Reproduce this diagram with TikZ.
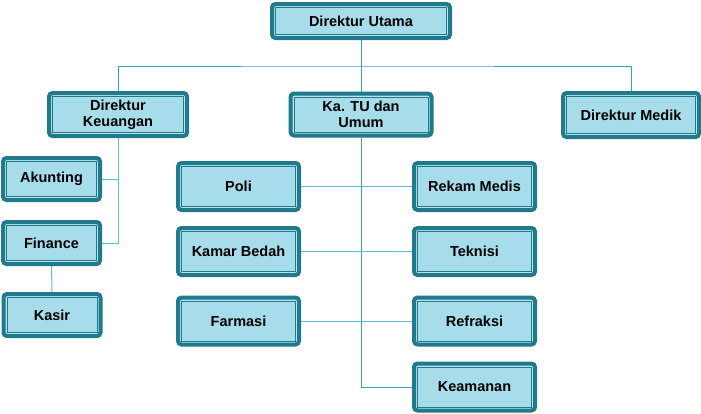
\documentclass[tikz,border=0pt]{standalone}
\usepackage{fontspec}
\setmainfont{Liberation Sans}
\usetikzlibrary{backgrounds}
\definecolor{boxdark}{HTML}{21798C}
\definecolor{boxfill}{HTML}{A7DDEA}
\definecolor{boxlight}{HTML}{B9E4EE}
\definecolor{linetop}{HTML}{35A0BE}
\definecolor{linelow}{HTML}{62BBD3}
\tikzset{
  orgbox/.style={draw=boxdark, line width=4pt, fill=boxfill, rounded corners=3.5pt,
    font=\fontsize{14.5}{16}\selectfont\bfseries, align=center, inner sep=0pt, text=black,
    path picture={
      \draw[boxlight, line width=1pt, sharp corners]
        ([shift={(2.5pt,2.5pt)}]path picture bounding box.south west) rectangle
        ([shift={(-2.5pt,-2.5pt)}]path picture bounding box.north east);
      \draw[boxdark, line width=1pt, sharp corners]
        ([shift={(3.5pt,3.5pt)}]path picture bounding box.south west) rectangle
        ([shift={(-3.5pt,-3.5pt)}]path picture bounding box.north east);
    }},
  bigbox/.style={orgbox, minimum width=121pt, minimum height=47pt},
  smallbox/.style={orgbox, minimum width=97pt, minimum height=42pt},
  conn/.style={line width=1pt, linelow},
  conntop/.style={line width=1pt, linetop}
}
\begin{document}
\begin{tikzpicture}[x=1pt,y=-1pt]
\useasboundingbox (0,0) rectangle (701,413);
\node[orgbox, minimum width=178pt, minimum height=34pt] (utama) at (361,21) {Direktur Utama};
\node[orgbox, minimum width=138pt, minimum height=43pt] (keu) at (118,114.5) {Direktur\\Keuangan};
\node[orgbox, minimum width=141pt, minimum height=42pt] (tu) at (361,114.5) {Ka. TU dan\\Umum};
\node[orgbox, minimum width=136pt, minimum height=44pt] (medik) at (631,115) {Direktur Medik};
\node[smallbox] (akunting) at (51.5,179) {Akunting};
\node[smallbox] (finance) at (51.5,243) {Finance};
\node[smallbox] (kasir) at (52,315) {Kasir};
\node[bigbox] (poli) at (238.5,186.5) {Poli};
\node[bigbox] (kamar) at (238.5,251.5) {Kamar Bedah};
\node[bigbox] (farmasi) at (238.5,321) {Farmasi};
\node[bigbox] (rekam) at (474.5,186.5) {Rekam Medis};
\node[bigbox] (teknisi) at (474.5,251.5) {Teknisi};
\node[bigbox] (refraksi) at (474.5,321) {Refraksi};
\node[bigbox] (keamanan) at (474.5,387) {Keamanan};
\coordinate (bus) at (361,66);
\begin{scope}[on background layer]
\draw[conntop] (utama.south) -- (tu.north);
\draw[conntop] (keu.north) |- (bus) -| (medik.north);
\draw[conn] (keu.south) |- (finance.east);
\draw[conn] (akunting.east) -- (akunting.east -| keu.south);
\draw[conn] (finance.south) -- (kasir.north);
\draw[conntop] (tu.south) |- (keamanan.west);
\draw[conn] (poli.east) -- (rekam.west);
\draw[conn] (kamar.east) -- (teknisi.west);
\draw[conn] (farmasi.east) -- (refraksi.west);
\end{scope}
\end{tikzpicture}
\end{document}
